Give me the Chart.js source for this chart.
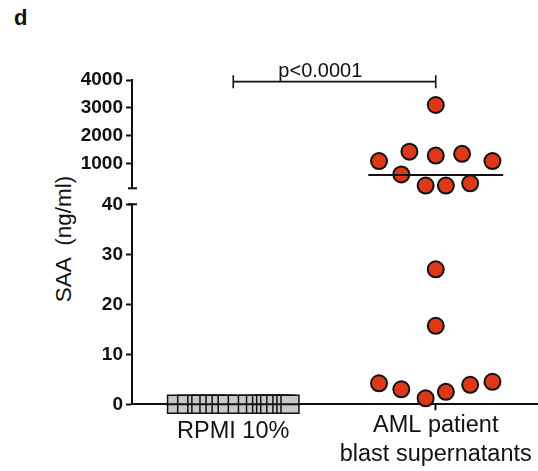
<!DOCTYPE html>
<html>
<head>
<meta charset="utf-8">
<script src="https://cdn.jsdelivr.net/npm/chart.js@4"></script>
<style>
  body { margin: 0; background: #fff; width: 538px; height: 471px; position: relative; overflow: hidden; font-family: Arial, "Liberation Sans", sans-serif; color: #111; }
  canvas { position: absolute; left: 0; }
  #topChart { top: 0; }
  #bottomChart { top: 190px; }
  #panel { position: absolute; left: 14px; top: 7px; font: bold 22px Arial, "Liberation Sans", sans-serif; line-height: 22px; }
  #ytitle { position: absolute; left: 64px; top: 239px; font: 22.5px Arial, "Liberation Sans", sans-serif; line-height: 22px; white-space: pre; transform: translate(-50%, -50%) rotate(-90deg); }
</style>
</head>
<body>
<div id="panel">d</div>
<div id="ytitle">SAA  (ng/ml)</div>
<canvas id="topChart" width="538" height="200"></canvas>
<canvas id="bottomChart" width="538" height="281"></canvas>
<script>
// groups on the x axis
const categories = ['RPMI 10%', ['AML patient', 'blast supernatants']];

// RPMI 10% (all at 0), scatter positions within the group
const rpmiX = [0.22, 0.27, 0.32, 0.34, 0.38, 0.41, 0.44, 0.47, 0.52, 0.57, 0.61, 0.64, 0.66, 0.68, 0.71, 0.74, 0.76, 0.78];
const rpmiY = [0, 0, 0, 0, 0, 0, 0, 0, 0, 0, 0, 0, 0, 0, 0, 0, 0, 0];

// AML patient blast supernatants
const amlX = [1.50, 1.22, 1.37, 1.50, 1.63, 1.78, 1.33, 1.45, 1.55, 1.67, 1.50, 1.50, 1.22, 1.33, 1.45, 1.55, 1.67, 1.78];
const amlY = [3100, 1080, 1420, 1280, 1340, 1080, 600, 200, 200, 280, 27, 15.7, 4.2, 3.0, 1.2, 2.5, 3.9, 4.5];

const medians = [0, 580];

const yTopTicks = [1000, 2000, 3000, 4000];
const yBottomTicks = [0, 10, 20, 30, 40];
const breakAt = 40;
const pText = 'p<0.0001';
const bracketY = 3940;

const INK = '#111';
const RED = '#de3816';
const GREY = '#c8c8c8';
const MEDIAN_HALF = 0.333;

function pts(xs, ys, keep) {
  return xs.map((x, i) => ({ x, y: ys[i] })).filter(p => keep(p.y));
}

function medianLine(group) {
  const c = group + 0.5;
  return [{ x: c - MEDIAN_HALF, y: medians[group] }, { x: c + MEDIAN_HALF, y: medians[group] }];
}

function noPad(s) {
  s.paddingLeft = 0; s.paddingRight = 0; s.paddingTop = 0; s.paddingBottom = 0;
}

function xScale(show) {
  return {
    type: 'linear', min: 0, max: 2, display: show,
    afterBuildTicks: s => { s.ticks = categories.map((c, i) => ({ value: i + 0.5 })); },
    afterFit: s => { if (show) s.height = 66.7; noPad(s); },
    ticks: {
      callback: (v, i) => categories[i],
      color: INK, padding: 1.2, maxRotation: 0, autoSkip: false,
      // one-line label sits a bit lower than the first line of the two-line one
      font: ctx => ({ family: 'Arial', size: 23.5, lineHeight: ctx.index === 0 ? '40.4px' : '29px' })
    },
    grid: { drawOnChartArea: false, tickLength: 6, tickWidth: 2, tickColor: INK },
    border: { color: INK, width: 2 }
  };
}

function yScale(min, max, ticks) {
  return {
    type: 'linear', min, max,
    afterBuildTicks: s => { s.ticks = ticks.map(v => ({ value: v })); },
    afterFit: s => { s.width = 132; noPad(s); },
    ticks: { color: INK, padding: 3, autoSkip: false, callback: v => String(v), font: { family: 'Arial', size: 19, weight: 'bold' } },
    grid: { drawOnChartArea: false, tickLength: 6, tickWidth: 2, tickColor: INK },
    border: { color: INK, width: 2 }
  };
}

// short mark crossing the y axis where it is broken
const breakMark = {
  id: 'breakMark',
  afterDraw(chart, args, opts) {
    const ys = chart.scales.y;
    const py = ys.getPixelForValue(opts.value);
    const ctx = chart.ctx;
    ctx.save();
    ctx.strokeStyle = INK; ctx.lineWidth = 2;
    ctx.beginPath(); ctx.moveTo(ys.right - 4, py); ctx.lineTo(ys.right + 5, py); ctx.stroke();
    ctx.restore();
  }
};

const bracket = {
  id: 'bracket',
  afterDraw(chart) {
    if (!chart.options.plugins.bracket.show) return;
    const xs = chart.scales.x, ys = chart.scales.y;
    const y = ys.getPixelForValue(bracketY);
    const x1 = xs.getPixelForValue(0.5), x2 = xs.getPixelForValue(1.5);
    const ctx = chart.ctx;
    ctx.save();
    ctx.strokeStyle = INK; ctx.lineWidth = 1.6;
    ctx.beginPath();
    ctx.moveTo(x1, y); ctx.lineTo(x2, y);
    ctx.moveTo(x1, y - 6.5); ctx.lineTo(x1, y + 6.5);
    ctx.moveTo(x2, y - 6.5); ctx.lineTo(x2, y + 6.5);
    ctx.stroke();
    ctx.fillStyle = INK;
    ctx.font = '20px Arial, "Liberation Sans", sans-serif';
    ctx.textAlign = 'center'; ctx.textBaseline = 'alphabetic';
    ctx.fillText(pText, xs.getPixelForValue(0.93), y - 4.8);
    ctx.restore();
  }
};

Chart.defaults.font.family = 'Arial, "Liberation Sans", sans-serif';

const medianStyle = { type: 'line', borderColor: INK, borderWidth: 2, pointRadius: 0, clip: false };
const dotStyle = { pointStyle: 'circle', pointRadius: 8, backgroundColor: RED, borderColor: INK, borderWidth: 2, clip: false };

new Chart(document.getElementById('topChart'), {
  type: 'scatter',
  data: {
    datasets: [
      Object.assign({ data: medianLine(1) }, medianStyle),
      Object.assign({ data: pts(amlX, amlY, v => v > breakAt) }, dotStyle)
    ]
  },
  options: {
    responsive: false, animation: false, devicePixelRatio: 1,
    layout: { autoPadding: false, padding: { top: 80, bottom: 11.7, left: 0, right: 1 } },
    plugins: { legend: { display: false }, tooltip: { enabled: false }, breakMark: { value: 100 }, bracket: { show: true } },
    scales: { x: xScale(false), y: yScale(100, 4000, yTopTicks) }
  },
  plugins: [breakMark, bracket]
});

new Chart(document.getElementById('bottomChart'), {
  type: 'scatter',
  data: {
    datasets: [
      Object.assign({ data: medianLine(0) }, medianStyle),
      Object.assign({ data: pts(amlX, amlY, v => v <= breakAt) }, dotStyle),
      { data: pts(rpmiX, rpmiY, () => true), pointStyle: 'rect', pointRadius: 12.7, backgroundColor: GREY, borderColor: INK, borderWidth: 1.5, clip: false }
    ]
  },
  options: {
    responsive: false, animation: false, devicePixelRatio: 1,
    layout: { autoPadding: false, padding: { top: 14.3, bottom: 0, left: 0, right: 1 } },
    plugins: { legend: { display: false }, tooltip: { enabled: false }, breakMark: { value: 40 }, bracket: { show: false } },
    scales: { x: xScale(true), y: yScale(0, 40, yBottomTicks) }
  },
  plugins: [breakMark, bracket]
});
</script>
</body>
</html>
